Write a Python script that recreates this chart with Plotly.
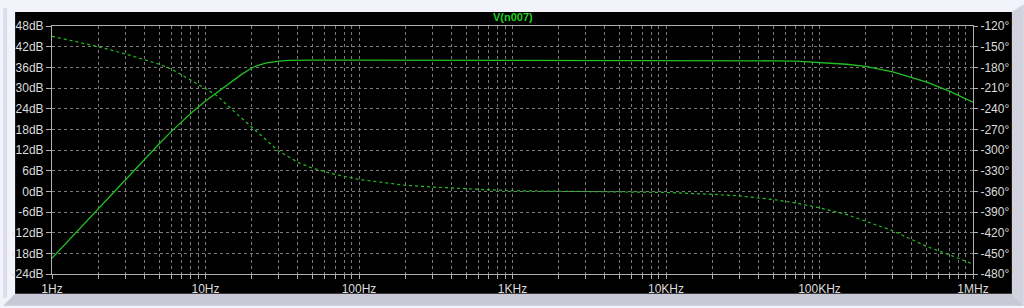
import plotly.graph_objects as go

# ---- data (Bode plot of V(n007)) ----
freq_hz = [1, 1.5, 2, 3, 4, 5, 6, 7, 8, 10, 12, 15, 17, 20, 22, 25, 30, 35, 40, 50, 70, 100,
           150, 200, 300, 400, 600, 1e3, 2e3, 5e3, 1e4, 2e4, 3e4, 5e4, 7e4, 1e5,
           1.5e5, 2e5, 3e5, 4e5, 5e5, 7e5, 1e6]
mag_db = [-19.4, -11.0, -5.2, 3.4, 9.3, 13.8, 17.4, 20.2, 22.6, 26.2, 28.8, 32.0, 33.8, 35.8,
          36.6, 37.3, 37.8, 38.0, 38.1, 38.1, 38.1, 38.1,
          38.1, 38.1, 38.1, 38.1, 38.1, 38.1, 38.1, 38.1, 38.1, 38.1, 38.05, 37.9, 37.8, 37.45,
          36.9, 36.3, 34.7, 33.0, 31.7, 29.1, 25.9]
phase_deg = [-134.9, -143.7, -150.0, -160.5, -169.0, -175.5, -182.5, -190.5, -198.5, -210.7,
             -222.0, -242.0, -253.0, -267.5, -276.0, -286.0, -301.6, -311.0, -318.0, -326.6,
             -335.5, -342.8,
             -347.7, -351.2, -353.7, -355.3, -357.1, -359.1, -360.0, -360.3, -361.6, -364.3,
             -366.6, -371.9, -376.8, -384.0, -393.5, -403.4, -417.2, -430.0, -440.2, -452.0,
             -465.6]

x_major_vals = [1, 10, 100, 1e3, 1e4, 1e5, 1e6]
x_major_text = ["1Hz", "10Hz", "100Hz", "1KHz", "10KHz", "100KHz", "1MHz"]
db_vals = [48, 42, 36, 30, 24, 18, 12, 6, 0, -6, -12, -18, -24]
db_text = ["48dB", "42dB", "36dB", "30dB", "24dB", "18dB", "12dB", "6dB", "0dB",
           "-6dB", "-12dB", "-18dB", "-24dB"]
deg_vals = [-120, -150, -180, -210, -240, -270, -300, -330, -360, -390, -420, -450, -480]
deg_text = ["-120°", "-150°", "-180°", "-210°", "-240°", "-270°", "-300°", "-330°",
            "-360°", "-390°", "-420°", "-450°", "-480°"]
title_text = "V(n007)"

# all log tick positions (1..9 per decade) for grid/ticks
x_tick_vals = []
x_tick_text = []
for dec in range(6):
    for m in range(1, 10):
        v = m * 10 ** dec
        x_tick_vals.append(v)
        x_tick_text.append(x_major_text[dec] if m == 1 else "")
x_tick_vals.append(1e6)
x_tick_text.append(x_major_text[-1])

W, H = 1024, 308
L, R, T, B = 49, 973, 26, 276
pw, ph = R - L, B - T


def px(x):
    return (x - L) / pw


def py(y):
    return (B - y) / ph


TRACE = "#22c022"
GRID = "#7a7a7a"
AXIS = "#b0b0b0"
LABEL = "#dcdcdc"
FONT = "Liberation Sans"

fig = go.Figure()
fig.add_trace(go.Scatter(x=freq_hz, y=mag_db, mode="lines",
                         line=dict(color=TRACE, width=1.3),
                         yaxis="y", showlegend=False))
fig.add_trace(go.Scatter(x=freq_hz, y=phase_deg, mode="lines",
                         line=dict(color=TRACE, width=1.2, dash="3px,3px"),
                         yaxis="y2", showlegend=False))

shapes = [
    # left light bevel
    dict(type="rect", xref="paper", yref="paper", x0=px(0), x1=px(4), y0=py(300), y1=py(8),
         fillcolor="#dcdcea", line=dict(width=0), layer="below"),
    # right bevel
    dict(type="path", xref="paper", yref="paper",
         path=f"M {px(1012)} {py(12)} L {px(1024)} {py(4)} L {px(1024)} {py(308)} L {px(1012)} {py(296)} Z",
         fillcolor="#d2d2de", line=dict(width=0), layer="below"),
    # bottom bevel
    dict(type="path", xref="paper", yref="paper",
         path=f"M {px(12)} {py(296)} L {px(1012)} {py(296)} L {px(1024)} {py(308)} L {px(0)} {py(308)} Z",
         fillcolor="#c8c8d6", line=dict(width=0), layer="below"),
    # black panel
    dict(type="rect", xref="paper", yref="paper", x0=px(12), x1=px(1012), y0=py(296), y1=py(12),
         fillcolor="#000000", line=dict(width=0), layer="below"),
]

fig.update_layout(
    width=W, height=H,
    margin=dict(l=L, r=W - R, t=T, b=H - B, pad=0),
    paper_bgcolor="#f2f2fa",
    plot_bgcolor="#000000",
    shapes=shapes,
    font=dict(family=FONT, size=12, color=LABEL),
    xaxis=dict(type="log", range=[0, 6], tickvals=x_tick_vals, ticktext=x_tick_text,
               showgrid=True, gridcolor=GRID, griddash="3px,3px", gridwidth=1,
               ticks="outside", ticklen=4, tickcolor=AXIS, tickwidth=1,
               showline=True, linecolor=AXIS, linewidth=1, mirror=True,
               zeroline=False, tickfont=dict(family=FONT, size=12, color=LABEL)),
    yaxis=dict(range=[-24, 48], tickvals=db_vals, ticktext=db_text,
               showgrid=True, gridcolor=GRID, griddash="3px,3px", gridwidth=1,
               ticks="outside", ticklen=5, tickcolor=AXIS, tickwidth=1,
               showline=True, linecolor=AXIS, linewidth=1, zeroline=False,
               tickfont=dict(family=FONT, size=12, color=LABEL)),
    yaxis2=dict(range=[-480, -120], tickvals=deg_vals, ticktext=deg_text,
                overlaying="y", side="right", showgrid=False,
                ticks="outside", ticklen=4, tickcolor=AXIS, tickwidth=1,
                showline=True, linecolor=AXIS, linewidth=1, zeroline=False,
                tickfont=dict(family=FONT, size=12, color=LABEL)),
    annotations=[dict(text="<b>" + title_text + "</b>", xref="paper", yref="paper", x=0.5,
                      y=py(17), xanchor="center", yanchor="middle", showarrow=False,
                      font=dict(family=FONT, size=11, color="#22d022"))],
)

fig.write_html("out.html", config={"displayModeBar": False})
